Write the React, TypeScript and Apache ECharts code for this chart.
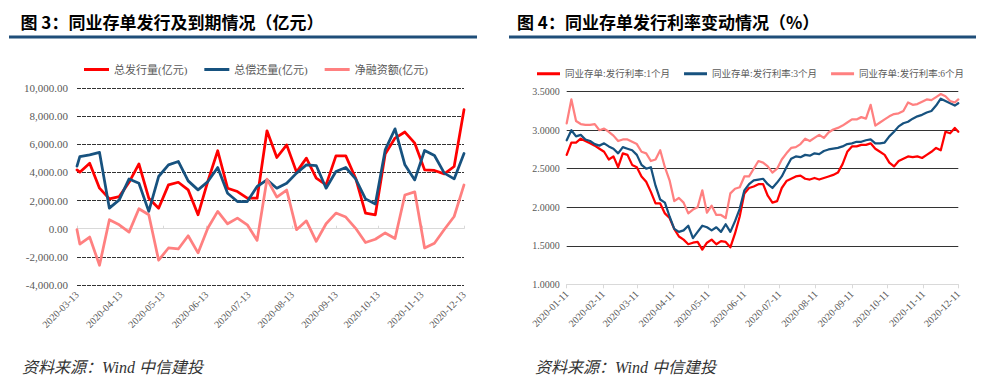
import React, { useEffect, useRef } from "react";
import * as echarts from "echarts";

// ---------- Figure 3: weekly issuance / maturity (亿元) ----------
const flowDates = [
  "2020-03-13", "2020-03-15", "2020-03-22", "2020-03-29", "2020-04-05", "2020-04-12", "2020-04-19",
  "2020-04-26", "2020-05-03", "2020-05-10", "2020-05-17", "2020-05-24", "2020-05-31", "2020-06-07",
  "2020-06-14", "2020-06-21", "2020-06-28", "2020-07-05", "2020-07-12", "2020-07-19", "2020-07-26",
  "2020-08-02", "2020-08-09", "2020-08-16", "2020-08-23", "2020-08-30", "2020-09-06", "2020-09-13",
  "2020-09-20", "2020-09-27", "2020-10-04", "2020-10-11", "2020-10-18", "2020-10-25", "2020-11-01",
  "2020-11-08", "2020-11-15", "2020-11-22", "2020-11-29", "2020-12-06", "2020-12-13",
];
const issueAmt = [
  4180, 4020, 4660, 2880, 2120, 2280, 3300, 4610, 2170, 1460, 3115, 3300, 2760, 990, 3380, 5540,
  2880, 2640, 2170, 2170, 6960, 5060, 5960, 4020, 5015, 3590, 3115, 5180, 5180, 3590, 1110, 990,
  5300, 6440, 6870, 6080, 4180, 4140, 3900, 4420, 8460,
];
const repayAmt = [
  4450, 5130, 5250, 5420, 1460, 2050, 3540, 3230, 1230, 3710, 4540, 4780, 3400, 2760, 3350, 4350,
  2520, 1930, 1930, 3000, 3470, 2880, 3230, 3950, 4540, 4490, 2880, 4070, 4350, 3540, 2120, 1760,
  5600, 7100, 4540, 3470, 5560, 5200, 3950, 3540, 5350,
];
const netAmt = [
  -70, -1090, -590, -2600, 640, 280, -240, 1420, 990, -2240, -1370, -1440, -500, -1720, 50, 1230,
  350, 755, 280, -830, 3520, 2250, 2750, -70, 560, -900, 350, 1110, 830, 30, -980, -750,
  -300, -700, 2400, 2620, -1370, -1030, -60, 870, 3110,
];
const flowNames = ["总发行量(亿元)", "总偿还量(亿元)", "净融资额(亿元)"];

// ---------- Figure 4: issuance rates (%) ----------
const rateDates = [
  "2020-01-11", "2020-01-15", "2020-01-19", "2020-01-23", "2020-01-27", "2020-01-31",
  "2020-02-04", "2020-02-08", "2020-02-12", "2020-02-16", "2020-02-20", "2020-02-24", "2020-02-28",
  "2020-03-03", "2020-03-07", "2020-03-11", "2020-03-15", "2020-03-19", "2020-03-23", "2020-03-27", "2020-03-31",
  "2020-04-04", "2020-04-08", "2020-04-12", "2020-04-16", "2020-04-20", "2020-04-24", "2020-04-28",
  "2020-05-02", "2020-05-06", "2020-05-10", "2020-05-14", "2020-05-18", "2020-05-22", "2020-05-26", "2020-05-30",
  "2020-06-03", "2020-06-07", "2020-06-11", "2020-06-15", "2020-06-19", "2020-06-23", "2020-06-27",
  "2020-07-01", "2020-07-05", "2020-07-09", "2020-07-13", "2020-07-17", "2020-07-21", "2020-07-25", "2020-07-29",
  "2020-08-02", "2020-08-06", "2020-08-10", "2020-08-14", "2020-08-18", "2020-08-22", "2020-08-26", "2020-08-30",
  "2020-09-03", "2020-09-07", "2020-09-11", "2020-09-15", "2020-09-19", "2020-09-23", "2020-09-27",
  "2020-10-01", "2020-10-05", "2020-10-09", "2020-10-13", "2020-10-17", "2020-10-21", "2020-10-25", "2020-10-29",
  "2020-11-02", "2020-11-06", "2020-11-10", "2020-11-14", "2020-11-18", "2020-11-22", "2020-11-26", "2020-11-30",
  "2020-12-04", "2020-12-08", "2020-12-11",
];
const rate1M = [
  2.68, 2.84, 2.84, 2.89, 2.86, 2.83,
  2.80, 2.76, 2.72, 2.62, 2.66, 2.52, 2.70,
  2.68, 2.55, 2.52, 2.40, 2.33, 2.20, 2.05, 2.05,
  1.92, 1.86, 1.72, 1.62, 1.58, 1.52, 1.54,
  1.55, 1.45, 1.54, 1.58, 1.52, 1.56, 1.55, 1.48,
  1.66, 1.88, 2.18, 2.25, 2.27, 2.30, 2.30,
  2.15, 2.06, 2.08, 2.25, 2.34, 2.37, 2.40, 2.41,
  2.37, 2.36, 2.38, 2.36, 2.38, 2.40, 2.42, 2.45,
  2.56, 2.72, 2.79, 2.79, 2.81, 2.81, 2.83,
  2.76, 2.72, 2.68, 2.58, 2.53, 2.60, 2.63, 2.66,
  2.65, 2.66, 2.64, 2.68, 2.72, 2.77, 2.74, 2.98,
  2.96, 3.03, 2.98,
];
const rate3M = [
  2.87, 3.00, 2.92, 2.94, 2.88, 2.86,
  2.82, 2.80, 2.83, 2.79, 2.76, 2.70, 2.78,
  2.76, 2.74, 2.68, 2.55, 2.50, 2.52, 2.28, 2.10,
  2.06, 1.88, 1.72, 1.68, 1.70, 1.76, 1.60,
  1.68, 1.76, 1.74, 1.70, 1.74, 1.68, 1.78, 1.68,
  1.82, 1.98, 2.22, 2.30, 2.35, 2.36, 2.37,
  2.30, 2.25, 2.32, 2.40, 2.52, 2.63, 2.66, 2.65,
  2.68, 2.67, 2.70, 2.69, 2.73, 2.75, 2.76, 2.77,
  2.79, 2.82, 2.83, 2.85, 2.85, 2.87, 2.88,
  2.83, 2.83, 2.84, 2.92, 2.98, 3.05, 3.09, 3.11,
  3.15, 3.18, 3.20, 3.23, 3.25, 3.32, 3.41, 3.38,
  3.35, 3.32, 3.35,
];
const rate6M = [
  3.09, 3.40, 3.12, 3.08, 3.07, 3.07,
  3.08, 3.00, 3.02, 2.98, 2.93, 2.86, 2.88,
  2.88, 2.85, 2.82, 2.72, 2.70, 2.60, 2.62, 2.74,
  2.52, 2.35, 2.08, 2.12, 2.06, 1.92, 1.97,
  2.00, 2.22, 1.93, 2.02, 1.90, 1.90, 1.86, 2.18,
  2.24, 2.26, 2.40, 2.40, 2.50, 2.60, 2.58,
  2.53, 2.45, 2.50, 2.62, 2.70, 2.77, 2.78, 2.82,
  2.89, 2.86, 2.90, 2.94, 2.90, 2.97, 3.01, 3.03,
  3.06, 3.10, 3.14, 3.14, 3.17, 3.15, 3.33,
  3.06, 3.10, 3.14, 3.18, 3.21, 3.22, 3.25, 3.36,
  3.33, 3.34, 3.37, 3.40, 3.39, 3.43, 3.47, 3.44,
  3.38, 3.36, 3.40,
];
const rateNames = ["同业存单:发行利率:1个月", "同业存单:发行利率:3个月", "同业存单:发行利率:6个月"];

const RED = "#ff0000";
const BLUE = "#17527f";
const PINK = "#ff8080";
const LABEL = "#595959";
const GRIDC = "#333333";
const SERIF = "'Liberation Serif', 'Noto Sans CJK SC', serif";
const CJK = "'Liberation Serif', 'Noto Sans CJK SC', sans-serif";

function dayRange(start: string, end: string): string[] {
  const out: string[] = [];
  const [sy, sm, sd] = start.split("-").map(Number);
  const [ey, em, ed] = end.split("-").map(Number);
  let t = Date.UTC(sy, sm - 1, sd);
  const e = Date.UTC(ey, em - 1, ed);
  while (t <= e) {
    out.push(new Date(t).toISOString().slice(0, 10));
    t += 86400000;
  }
  return out;
}

const flowAxis = dayRange("2020-03-13", "2020-12-13");
const rateAxis = dayRange("2020-01-11", "2020-12-11");

const pairs = (axis: string[], dates: string[], vals: number[]) =>
  dates.map((d, i) => [axis.indexOf(d), vals[i]]);

const fmtThousands = (v: number) =>
  v.toLocaleString("en-US", { minimumFractionDigits: 2, maximumFractionDigits: 2 });

function buildOption(): any {
  const flowLabelInterval = (_i: number, v: string) => v.endsWith("-13");
  const rateLabelInterval = (_i: number, v: string) => v.endsWith("-11");
  const lineSeries = (name: string, color: string, width: number, xi: number, yi: number, data: any[]) => ({
    name,
    type: "line",
    xAxisIndex: xi,
    yAxisIndex: yi,
    data,
    showSymbol: false,
    symbol: "none",
    color,
    lineStyle: { color, width, join: "round", cap: "round" },
    itemStyle: { color },
    silent: true,
  });

  return {
    animation: false,
    backgroundColor: "#ffffff",
    grid: [
      { left: 77, top: 88, width: 387, height: 197 },
      { left: 566.7, top: 91.7, width: 391.6, height: 192.6 },
    ],
    legend: [
      {
        left: 79,
        top: 59,
        icon: "rect",
        itemWidth: 25,
        itemHeight: 3,
        itemGap: 17,
        data: flowNames,
        textStyle: { fontSize: 11, color: LABEL, fontFamily: CJK },
      },
      {
        left: 532,
        top: 64,
        icon: "rect",
        itemWidth: 23,
        itemHeight: 3,
        itemGap: 14,
        data: rateNames,
        textStyle: { fontSize: 9.5, color: LABEL, fontFamily: CJK },
      },
    ],
    xAxis: [
      {
        gridIndex: 0,
        type: "category",
        data: flowAxis,
        boundaryGap: false,
        position: "bottom",
        axisLine: { show: false, onZero: false },
        axisTick: { show: false },
        splitLine: { show: false },
        axisLabel: {
          interval: flowLabelInterval,
          rotate: 45,
          margin: 8,
          fontSize: 10,
          color: LABEL,
          fontFamily: SERIF,
        },
      },
      {
        gridIndex: 0,
        type: "category",
        data: flowAxis,
        boundaryGap: false,
        position: "bottom",
        axisLine: { show: true, onZero: true, lineStyle: { color: "#d9d9d9", width: 1 } },
        axisTick: { show: true, interval: flowLabelInterval, inside: true, length: 3, lineStyle: { color: "#d9d9d9" } },
        axisLabel: { show: false },
        splitLine: { show: false },
      },
      {
        gridIndex: 1,
        type: "category",
        data: rateAxis,
        boundaryGap: false,
        position: "bottom",
        axisLine: { show: true, onZero: false, lineStyle: { color: "#d9d9d9", width: 1 } },
        axisTick: { show: true, interval: rateLabelInterval, length: 4, lineStyle: { color: "#d9d9d9" } },
        splitLine: { show: false },
        axisLabel: {
          interval: rateLabelInterval,
          rotate: 45,
          margin: 8,
          fontSize: 10,
          color: LABEL,
          fontFamily: SERIF,
        },
      },
    ],
    yAxis: [
      {
        gridIndex: 0,
        type: "value",
        min: -4000,
        max: 10000,
        interval: 2000,
        axisLine: { show: false },
        axisTick: { show: false },
        axisLabel: { formatter: fmtThousands, fontSize: 11, color: LABEL, fontFamily: SERIF, margin: 9 },
        splitLine: {
          show: true,
          lineStyle: {
            color: [GRIDC, GRIDC, "rgba(0,0,0,0)", GRIDC, GRIDC, GRIDC, GRIDC, GRIDC],
            width: 1,
            type: [4, 1],
          },
        },
      },
      {
        gridIndex: 1,
        type: "value",
        min: 1,
        max: 3.5,
        interval: 0.5,
        axisLine: { show: false },
        axisTick: { show: false },
        axisLabel: { formatter: (v: number) => v.toFixed(4), fontSize: 10, color: LABEL, fontFamily: SERIF, margin: 7 },
        splitLine: {
          show: true,
          lineStyle: {
            color: ["rgba(0,0,0,0)", GRIDC, GRIDC, GRIDC, GRIDC, GRIDC],
            width: 1,
          },
        },
      },
    ],
    series: [
      lineSeries(flowNames[0], RED, 2.75, 0, 0, pairs(flowAxis, flowDates, issueAmt)),
      lineSeries(flowNames[1], BLUE, 2.75, 0, 0, pairs(flowAxis, flowDates, repayAmt)),
      lineSeries(flowNames[2], PINK, 2.75, 0, 0, pairs(flowAxis, flowDates, netAmt)),
      lineSeries(rateNames[0], RED, 2.25, 2, 1, pairs(rateAxis, rateDates, rate1M)),
      lineSeries(rateNames[1], BLUE, 2.25, 2, 1, pairs(rateAxis, rateDates, rate3M)),
      lineSeries(rateNames[2], PINK, 2.25, 2, 1, pairs(rateAxis, rateDates, rate6M)),
    ],
    graphic: [
      {
        type: "text",
        x: 20.5,
        y: 21.5,
        silent: true,
        style: {
          text: "图 3：同业存单发行及到期情况（亿元）",
          font: "bold 17px 'Noto Sans CJK SC', sans-serif",
          fill: "#000000",
          verticalAlign: "middle",
          textVerticalAlign: "middle",
        },
      },
      {
        type: "text",
        x: 517,
        y: 21.5,
        silent: true,
        style: {
          text: "图 4：同业存单发行利率变动情况（%）",
          font: "bold 17px 'Noto Sans CJK SC', sans-serif",
          fill: "#000000",
          verticalAlign: "middle",
          textVerticalAlign: "middle",
        },
      },
      { type: "rect", silent: true, shape: { x: 9, y: 35.5, width: 468, height: 3 }, style: { fill: "#1f4e79" } },
      { type: "rect", silent: true, shape: { x: 509, y: 35.5, width: 467, height: 3 }, style: { fill: "#1f4e79" } },
      {
        type: "text",
        x: 22,
        y: 367,
        silent: true,
        style: {
          text: "资料来源：Wind 中信建投",
          font: "italic 16px 'Liberation Serif', 'Noto Sans CJK SC', serif",
          fill: "#333333",
          verticalAlign: "middle",
          textVerticalAlign: "middle",
        },
      },
      {
        type: "text",
        x: 535,
        y: 367,
        silent: true,
        style: {
          text: "资料来源：Wind 中信建投",
          font: "italic 16px 'Liberation Serif', 'Noto Sans CJK SC', serif",
          fill: "#333333",
          verticalAlign: "middle",
          textVerticalAlign: "middle",
        },
      },
    ],
  };
}

export default function App() {
  const ref = useRef<HTMLDivElement>(null);
  useEffect(() => {
    if (!ref.current) return;
    const chart = echarts.init(ref.current, null, { renderer: "svg" });
    chart.setOption(buildOption());
    return () => chart.dispose();
  }, []);
  return (
    <div
      ref={ref}
      style={{ position: "fixed", left: 0, top: 0, width: 985, height: 389, background: "#ffffff" }}
    />
  );
}
